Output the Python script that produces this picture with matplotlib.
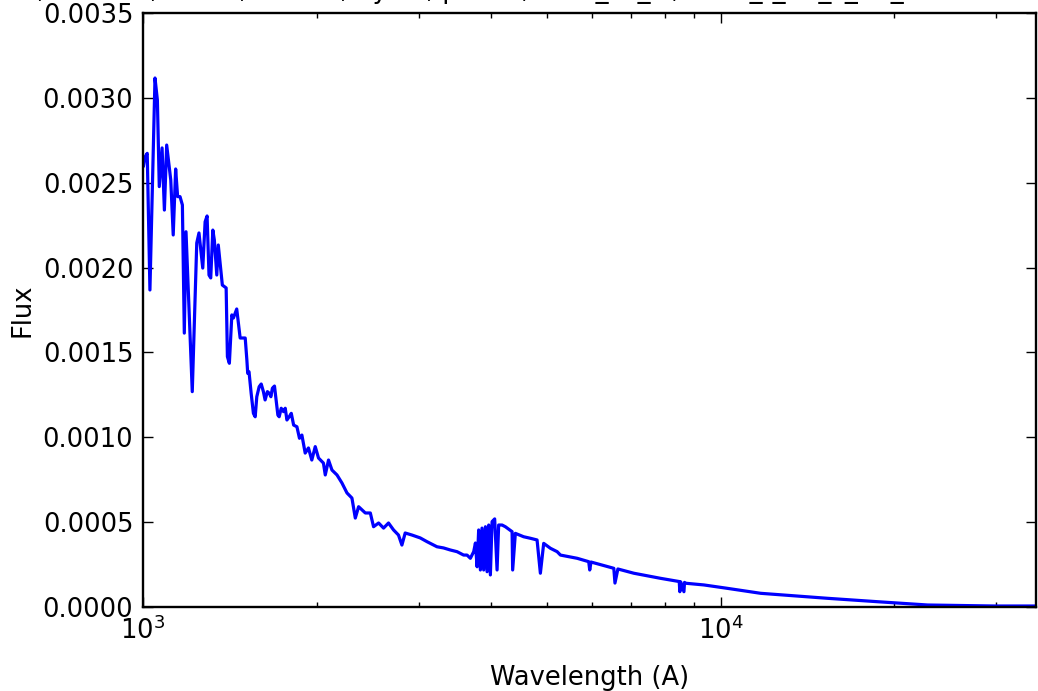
import numpy as np
import matplotlib
matplotlib.use('Agg')
import matplotlib.pyplot as plt
from matplotlib.ticker import FixedLocator, FormatStrFormatter

# spectrum: wavelength (A) and flux
wave = [1002, 1008, 1017, 1028, 1049, 1059, 1067, 1079, 1089, 1099,
        1117, 1128, 1139, 1148, 1159, 1170, 1179, 1187, 1217, 1239,
        1250, 1269, 1281, 1291, 1301, 1310, 1321, 1329, 1342, 1350,
        1372, 1393, 1400, 1411, 1425, 1434, 1453, 1473, 1503, 1513,
        1518, 1526, 1539, 1553, 1564, 1574, 1589, 1602, 1616, 1627,
        1642, 1655, 1665, 1675, 1689, 1700, 1712, 1721, 1735, 1751,
        1763, 1775, 1791, 1806, 1823, 1847, 1866, 1884, 1909, 1934,
        1960, 1987, 2013, 2053, 2068, 2095, 2124, 2167, 2210, 2255,
        2300, 2331, 2362, 2426, 2475, 2507, 2558, 2609, 2661, 2715,
        2769, 2807, 2844, 2922, 3020, 3102, 3228, 3314, 3404, 3497,
        3543, 3590, 3639, 3688, 3737, 3763, 3788, 3812, 3838, 3863,
        3889, 3916, 3942, 3968, 3994, 4021, 4063, 4102, 4128, 4185,
        4240, 4355, 4365, 4412, 4560, 4684, 4811, 4875, 4940, 5074,
        5212, 5281, 5645, 5911, 5935, 5965, 6533, 6563, 6640, 7075,
        7870, 8480, 8500, 8530, 8640, 8660, 8700, 9355, 10271, 11730,
        15305, 18690, 22818, 29769, 35160]
flux = [0.002600, 0.002652, 0.002673, 0.001868, 0.003117, 0.002987, 0.002477, 0.002705, 0.002339, 0.002722,
        0.002516, 0.002192, 0.002581, 0.002418, 0.002418, 0.002369, 0.001614, 0.002211, 0.001269, 0.002145,
        0.002204, 0.001997, 0.002270, 0.002304, 0.001956, 0.001939, 0.002221, 0.002162, 0.001956, 0.002133,
        0.001897, 0.001880, 0.001475, 0.001436, 0.001721, 0.001703, 0.001756, 0.001585, 0.001585, 0.001455,
        0.001377, 0.001386, 0.001259, 0.001141, 0.001121, 0.001239, 0.001298, 0.001314, 0.001269, 0.001220,
        0.001269, 0.001259, 0.001239, 0.001289, 0.001302, 0.001220, 0.001131, 0.001121, 0.001171, 0.001151,
        0.001171, 0.001102, 0.001121, 0.001141, 0.001072, 0.001062, 0.000994, 0.001013, 0.000907, 0.000937,
        0.000866, 0.000945, 0.000878, 0.000848, 0.000778, 0.000866, 0.000807, 0.000778, 0.000731, 0.000672,
        0.000642, 0.000524, 0.000591, 0.000554, 0.000554, 0.000473, 0.000495, 0.000465, 0.000495, 0.000454,
        0.000424, 0.000365, 0.000436, 0.000424, 0.000407, 0.000385, 0.000355, 0.000348, 0.000336, 0.000326,
        0.000316, 0.000306, 0.000306, 0.000287, 0.000326, 0.000377, 0.000237, 0.000454, 0.000218, 0.000465,
        0.000218, 0.000473, 0.000208, 0.000483, 0.000189, 0.000503, 0.000519, 0.000218, 0.000483, 0.000483,
        0.000473, 0.000444, 0.000218, 0.000434, 0.000414, 0.000405, 0.000395, 0.000199, 0.000375, 0.000346,
        0.000326, 0.000306, 0.000287, 0.000267, 0.000218, 0.000265, 0.000228, 0.000141, 0.000224, 0.000199,
        0.000169, 0.000150, 0.000090, 0.000148, 0.000090, 0.000145, 0.000140, 0.000130, 0.000110, 0.0000807,
        0.0000513, 0.0000312, 0.0000118, 0.0000059, 0.0000059]

yticks = [0.0, 0.0005, 0.0010, 0.0015, 0.0020, 0.0025, 0.0030, 0.0035]
title = "K, Z=0.02, t=1.0, M=2.0, dy=1, p=0.5, m04_ck_rt, ck04_t_01_z_10_mod"

fs = 18.5
plt.rcParams['font.family'] = ['DejaVu Sans']

fig = plt.figure(figsize=(10.38, 6.91), dpi=100)
ax = fig.add_axes([143/1038, 84/691, 893/1038, 594/691])

ax.plot(wave, flux, color='#0000ff', lw=2.3)
ax.set_xscale('log')
ax.set_xlim(1000, 35160)
ax.set_ylim(0, 0.0035)
ax.yaxis.set_major_locator(FixedLocator(yticks))
ax.yaxis.set_major_formatter(FormatStrFormatter('%.4f'))

for s in ax.spines.values():
    s.set_linewidth(1.7)
ax.tick_params(which='both', direction='in', top=True, right=True, labelsize=fs)
ax.tick_params(which='major', length=7, width=1.0, pad=7)
ax.tick_params(which='minor', length=3.6, width=1.0)
ax.tick_params(axis='y', which='minor', left=False, right=False)

ax.set_xlabel('Wavelength (A)', fontsize=fs, labelpad=14)
ax.set_ylabel('Flux', fontsize=fs, labelpad=5)

# title sits mostly above the top edge, only its descenders show
fig.text(20/1038, 1 + 2/691, title, fontsize=fs, ha='left', va='baseline')

fig.savefig('out.png', dpi=100)
